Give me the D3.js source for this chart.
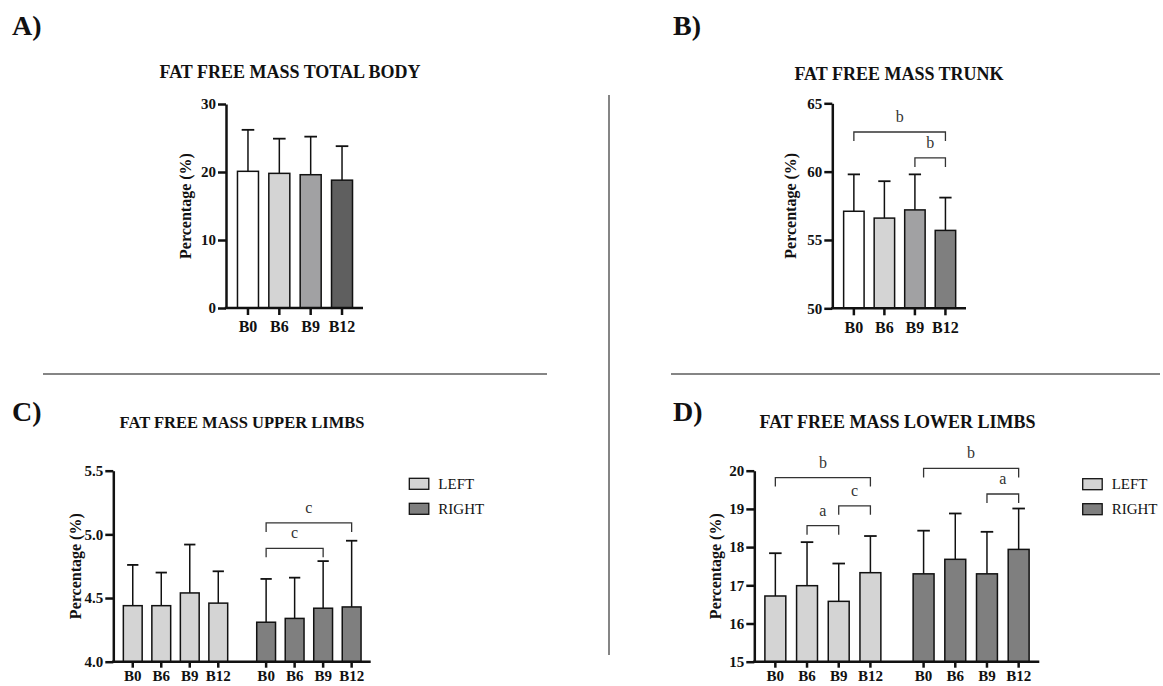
<!DOCTYPE html>
<html>
<head>
<meta charset="utf-8">
<script src="https://cdn.jsdelivr.net/npm/d3@7"></script>
<style>
  body { margin: 0; background: #fff; }
  svg { display: block; }
</style>
</head>
<body>
<div id="chart"></div>
<script>
const times = ["B0", "B6", "B9", "B12"];
const sides = ["LEFT", "RIGHT"];

// A) total body
const totalMean = [20.1, 19.8, 19.6, 18.8];
const totalUpper = [26.2, 24.9, 25.2, 23.8];
const totalTicks = [0, 10, 20, 30];

// B) trunk
const trunkMean = [57.1, 56.6, 57.2, 55.7];
const trunkUpper = [59.8, 59.3, 59.8, 58.1];
const trunkTicks = [50, 55, 60, 65];
const trunkBrackets = [["B0", "B12", 62.9, "b"], ["B9", "B12", 61.0, "b"]];

// C) upper limbs
const upperLeftMean = [4.44, 4.44, 4.54, 4.46];
const upperLeftErr = [4.76, 4.70, 4.92, 4.71];
const upperRightMean = [4.31, 4.34, 4.42, 4.43];
const upperRightErr = [4.65, 4.66, 4.79, 4.95];
const upperTicks = [4.0, 4.5, 5.0, 5.5];
const upperBrackets = [["RIGHT", "B0", "B12", 5.09, "c"], ["RIGHT", "B0", "B9", 4.89, "c"]];

// D) lower limbs
const lowerLeftMean = [16.72, 16.99, 16.58, 17.33];
const lowerLeftErr = [17.84, 18.13, 17.57, 18.29];
const lowerRightMean = [17.30, 17.68, 17.30, 17.94];
const lowerRightErr = [18.43, 18.88, 18.40, 19.01];
const lowerTicks = [15, 16, 17, 18, 19, 20];
const lowerBrackets = [
  ["LEFT", "B0", "B12", 19.82, "b"],
  ["LEFT", "B6", "B9", 18.56, "a"],
  ["LEFT", "B9", "B12", 19.08, "c"],
  ["RIGHT", "B0", "B12", 20.06, "b"],
  ["RIGHT", "B9", "B12", 19.39, "a"]
];

const serif = "'Liberation Serif', 'Times New Roman', serif";
const ink = "#111";

const svg = d3.select("#chart").append("svg").attr("width", 1163).attr("height", 686);

// panel letters + divider lines
[["A)", 12, 35], ["B)", 673, 35], ["C)", 12, 421], ["D)", 673, 421]].forEach(([t, x, y]) => {
  svg.append("text").attr("x", x).attr("y", y).attr("font-family", serif)
    .attr("font-weight", "bold").attr("font-size", 28).attr("fill", ink).text(t);
});
svg.append("line").attr("x1", 609).attr("x2", 609).attr("y1", 95).attr("y2", 655)
  .attr("stroke", "#858585").attr("stroke-width", 2);
svg.append("line").attr("x1", 43).attr("x2", 547).attr("y1", 374).attr("y2", 374)
  .attr("stroke", "#858585").attr("stroke-width", 2);
svg.append("line").attr("x1", 671).attr("x2", 1160).attr("y1", 374).attr("y2", 374)
  .attr("stroke", "#858585").attr("stroke-width", 2);

function axes(g, p, y, tickFmt) {
  g.append("g").attr("transform", `translate(${p.x0},0)`)
    .call(d3.axisLeft(y).tickValues(p.ticks).tickSize(8).tickSizeOuter(0).tickPadding(2).tickFormat(tickFmt))
    .call(a => {
      a.attr("font-family", serif).attr("font-size", 15).attr("font-weight", "bold");
      a.select(".domain").attr("stroke", ink).attr("stroke-width", 2.5);
      a.selectAll(".tick line").attr("stroke", ink).attr("stroke-width", 2.5);
      a.selectAll(".tick text").attr("fill", ink);
    });
  g.append("line").attr("x1", p.x0 - 1.25).attr("x2", p.x1).attr("y1", p.yBot).attr("y2", p.yBot)
    .attr("stroke", ink).attr("stroke-width", 2.5);
  // y label
  g.append("text")
    .attr("transform", `translate(${p.labelX},${(p.yTop + p.yBot) / 2}) rotate(-90)`)
    .attr("text-anchor", "middle").attr("dy", "0.35em")
    .attr("font-family", serif).attr("font-weight", "bold").attr("font-size", 16).attr("fill", ink)
    .text("Percentage (%)");
  // title
  g.append("text").attr("x", p.titleX).attr("y", p.titleY).attr("text-anchor", "middle")
    .attr("font-family", serif).attr("font-weight", "bold").attr("font-size", p.titleSize)
    .attr("fill", ink).text(p.title);
}

function xTicks(g, xs, offset, yBot, size, pad, fs) {
  g.append("g").attr("transform", `translate(${offset},${yBot})`)
    .call(d3.axisBottom(xs).tickSize(size).tickSizeOuter(0).tickPadding(pad))
    .call(a => {
      a.attr("font-family", serif).attr("font-size", fs).attr("font-weight", "bold");
      a.select(".domain").remove();
      a.selectAll(".tick line").attr("stroke", ink).attr("stroke-width", 2.5);
      a.selectAll(".tick text").attr("fill", ink);
    });
}

function bars(g, xs, offset, y, means, errs, colors, yBot) {
  const bw = xs.bandwidth();
  const cap = bw * 0.3;
  times.forEach((t, i) => {
    const cx = offset + xs(t) + bw / 2;
    g.append("line").attr("x1", cx).attr("x2", cx).attr("y1", y(means[i])).attr("y2", y(errs[i]))
      .attr("stroke", ink).attr("stroke-width", 1.5);
    g.append("line").attr("x1", cx - cap).attr("x2", cx + cap).attr("y1", y(errs[i])).attr("y2", y(errs[i]))
      .attr("stroke", ink).attr("stroke-width", 1.8);
    g.append("rect").attr("x", offset + xs(t)).attr("y", y(means[i]))
      .attr("width", bw).attr("height", yBot - y(means[i]))
      .attr("fill", colors[i]).attr("stroke", ink).attr("stroke-width", 1.5);
  });
}

function bracket(g, xa, xb, yv, label) {
  g.append("path")
    .attr("d", `M${xa},${yv + 9}V${yv}H${xb}V${yv + 9}`)
    .attr("fill", "none").attr("stroke", "#333").attr("stroke-width", 1.3);
  g.append("text").attr("x", (xa + xb) / 2).attr("y", yv - 10).attr("text-anchor", "middle")
    .attr("font-family", serif).attr("font-size", 16).attr("fill", "#333").text(label);
}

function drawSimple(p, means, errs, colors, brackets) {
  const g = svg.append("g");
  const y = d3.scaleLinear().domain(d3.extent(p.ticks)).range([p.yBot, p.yTop]);
  const x = d3.scaleBand().domain(times).range([p.x0 + 6.3, p.x1 - 5.3])
    .paddingInner(0.33).paddingOuter(0.165);
  bars(g, x, 0, y, means, errs, colors, p.yBot);
  axes(g, p, y, d3.format("d"));
  xTicks(g, x, 0, p.yBot, 7, 6, 16);
  brackets.forEach(([a, b, v, l]) => {
    bracket(g, x(a) + x.bandwidth() / 2, x(b) + x.bandwidth() / 2, y(v), l);
  });
}

function drawGrouped(p, series, brackets) {
  const g = svg.append("g");
  const y = d3.scaleLinear().domain(d3.extent(p.ticks)).range([p.yBot, p.yTop]);
  const xg = d3.scaleBand().domain(sides).range([p.x0 + 5.2, p.x1 - 4.8]).paddingInner(0.145);
  const xi = d3.scaleBand().domain(times).range([0, xg.bandwidth()])
    .paddingInner(0.34).paddingOuter(0.17);
  series.forEach(s => {
    bars(g, xi, xg(s.side), y, s.mean, s.err, times.map(() => s.color), p.yBot);
    xTicks(g, xi, xg(s.side), p.yBot, 6, 3, 15);
  });
  axes(g, p, y, d3.format(p.fmt));
  const cx = (side, t) => xg(side) + xi(t) + xi.bandwidth() / 2;
  brackets.forEach(([side, a, b, v, l]) => bracket(g, cx(side, a), cx(side, b), y(v), l));
  // legend
  const lg = g.append("g").attr("transform", `translate(${p.legX},${p.legY})`);
  series.forEach((s, i) => {
    lg.append("rect").attr("x", 0).attr("y", i * 25).attr("width", 19.5).attr("height", 11)
      .attr("fill", s.color).attr("stroke", ink).attr("stroke-width", 1.3);
    lg.append("text").attr("x", 29).attr("y", i * 25 + 5.5).attr("dy", "0.35em")
      .attr("font-family", serif).attr("font-size", 15).attr("fill", ink).text(s.side);
  });
}

drawSimple({
  x0: 226, x1: 363, yTop: 104, yBot: 308, ticks: totalTicks, labelX: 185,
  title: "FAT FREE MASS TOTAL BODY", titleX: 290, titleY: 78, titleSize: 18
}, totalMean, totalUpper, ["#ffffff", "#d4d4d4", "#a1a1a3", "#5f5f5f"], []);

drawSimple({
  x0: 832.3, x1: 966, yTop: 103.3, yBot: 308.3, ticks: trunkTicks, labelX: 790,
  title: "FAT FREE MASS TRUNK", titleX: 899, titleY: 80, titleSize: 18
}, trunkMean, trunkUpper, ["#ffffff", "#d4d4d4", "#a1a1a3", "#7f7f7f"], trunkBrackets);

drawGrouped({
  x0: 113.3, x1: 370.7, yTop: 470.7, yBot: 661.7, ticks: upperTicks, fmt: ".1f", labelX: 75,
  title: "FAT FREE MASS UPPER LIMBS", titleX: 242, titleY: 428, titleSize: 16.5,
  legX: 409.3, legY: 478.3
}, [
  { side: "LEFT", mean: upperLeftMean, err: upperLeftErr, color: "#d4d4d4" },
  { side: "RIGHT", mean: upperRightMean, err: upperRightErr, color: "#7f7f7f" }
], upperBrackets);

drawGrouped({
  x0: 754.3, x1: 1039.3, yTop: 470.7, yBot: 661.7, ticks: lowerTicks, fmt: "d", labelX: 715,
  title: "FAT FREE MASS LOWER LIMBS", titleX: 897.5, titleY: 428, titleSize: 18,
  legX: 1082.7, legY: 478.7
}, [
  { side: "LEFT", mean: lowerLeftMean, err: lowerLeftErr, color: "#d4d4d4" },
  { side: "RIGHT", mean: lowerRightMean, err: lowerRightErr, color: "#7f7f7f" }
], lowerBrackets);
</script>
</body>
</html>
